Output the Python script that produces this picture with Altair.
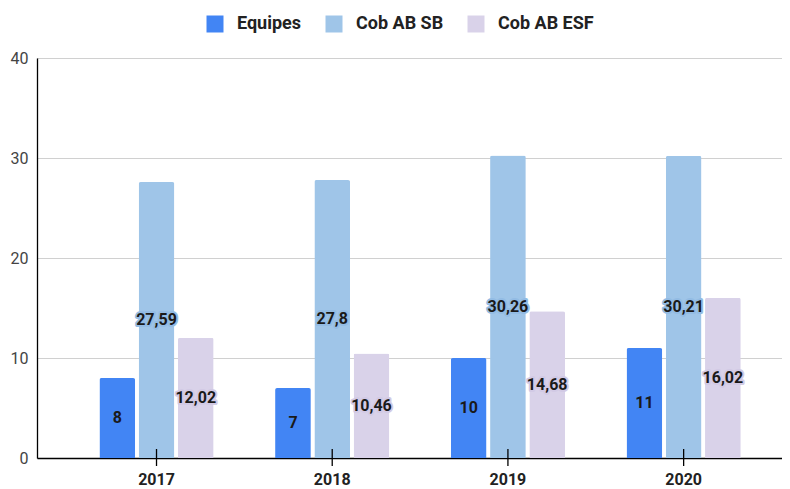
import altair as alt
import pandas as pd

years = ["2017", "2018", "2019", "2020"]
series = ["Equipes", "Cob AB SB", "Cob AB ESF"]
equipes = [8, 7, 10, 11]
cob_sb = [27.59, 27.8, 30.26, 30.21]
cob_esf = [12.02, 10.46, 14.68, 16.02]
colors = ["#4285f4", "#9fc5e8", "#d9d2e9"]
halo_colors = ["#4285f4", "#93bce4", "#d2cae5"]


def fmt(v):
    if float(v).is_integer():
        return str(int(v))
    return str(v).replace(".", ",")


rows = []
for s, vals in zip(series, [equipes, cob_sb, cob_esf]):
    for y, v in zip(years, vals):
        rows.append({"year": y, "series": s, "value": v, "label": fmt(v), "mid": v / 2})
df = pd.DataFrame(rows)

FONT = "Roboto"

x_enc = alt.X(
    "year:N",
    sort=years,
    scale=alt.Scale(paddingInner=0.35, paddingOuter=0.295, align=0.602),
    axis=alt.Axis(
        title=None, labelAngle=0, ticks=False, domainColor="#000000", domainWidth=1.3,
        labelFont=FONT, labelFontSize=16, labelFontWeight="bold", labelColor="#222222",
        labelPadding=13, grid=False,
    ),
)
xoff = alt.XOffset("series:N", sort=series, scale=alt.Scale(domain=series, paddingInner=0.09))

base = alt.Chart(df)

bars = base.mark_bar(cornerRadiusTopLeft=2, cornerRadiusTopRight=2).encode(
    x=x_enc,
    xOffset=xoff,
    y=alt.Y(
        "value:Q",
        scale=alt.Scale(domain=[0, 40]),
        axis=alt.Axis(
            title=None, values=[0, 10, 20, 30, 40], ticks=False, domainColor="#000000",
            domainWidth=1.3, gridColor="#d0d0d0", labelFont=FONT, labelFontSize=16,
            labelColor="#444444", labelPadding=9,
        ),
    ),
    color=alt.Color(
        "series:N",
        sort=series,
        scale=alt.Scale(domain=series, range=colors),
        legend=alt.Legend(
            title=None, orient="none", direction="horizontal", legendX=169, legendY=-43,
            symbolType="square", symbolSize=289, symbolStrokeWidth=0, symbolOpacity=1,
            labelFont=FONT, labelFontSize=18, labelFontWeight="bold", labelColor="#222222",
            labelOffset=13, columnPadding=23,
        ),
    ),
)

halo = base.mark_text(
    font=FONT, fontSize=16, fontWeight="bold", strokeWidth=4, strokeJoin="round",
).encode(
    x=alt.X("year:N", sort=years),
    xOffset=xoff,
    y=alt.Y("mid:Q"),
    text="label:N",
    stroke=alt.Stroke("series:N", scale=alt.Scale(domain=series, range=halo_colors), legend=None),
    fill=alt.Fill("series:N", scale=alt.Scale(domain=series, range=halo_colors), legend=None),
)

labels = base.mark_text(
    font=FONT, fontSize=16, fontWeight="bold", color="#1a1a1a",
).encode(
    x=alt.X("year:N", sort=years),
    xOffset=xoff,
    y=alt.Y("mid:Q"),
    text="label:N",
)

ticks = alt.Chart(pd.DataFrame({"year": years})).mark_rule(color="#000000", strokeWidth=1.3).encode(
    x=alt.X("year:N", sort=years),
    y=alt.value(391),
    y2=alt.value(408),
)

chart = (
    alt.layer(bars, halo, labels, ticks)
    .resolve_scale(fill="independent", stroke="independent")
    .properties(
        width=745,
        height=400,
        autosize=alt.AutoSizeParams(type="none"),
        padding={"left": 29, "top": 50, "right": 0, "bottom": 31},
    )
    .configure_view(stroke=None)
    .configure(background="#ffffff")
)

chart.save("out.html", embed_options={"renderer": "svg", "actions": False})
